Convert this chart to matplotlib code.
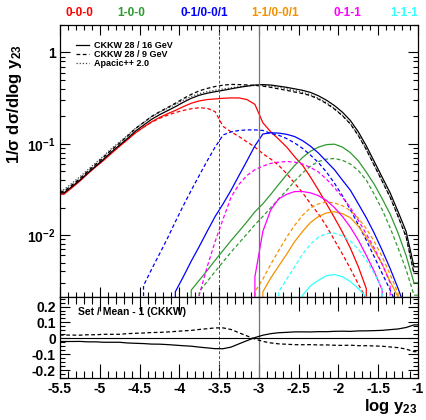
import numpy as np
import matplotlib
matplotlib.use('Agg')
import matplotlib.pyplot as plt
from matplotlib.lines import Line2D
from matplotlib.ticker import MultipleLocator, LogLocator, FuncFormatter, NullFormatter

plt.rcParams['font.family'] = 'Liberation Sans'
plt.rcParams['font.weight'] = 'bold'
plt.rcParams['mathtext.fontset'] = 'custom'
plt.rcParams['mathtext.rm'] = 'Liberation Sans:bold'
plt.rcParams['mathtext.bf'] = 'Liberation Sans:bold'
plt.rcParams['mathtext.default'] = 'bf'
plt.rcParams['axes.unicode_minus'] = False

# log10(y23) binning, 0.1 wide
edges = np.linspace(-5.5, -1.0, 46)
centers = 0.5 * (edges[1:] + edges[:-1])
ycut_9 = -3.5
ycut_16 = -3.0

# total rates
tot_16 = [0.029, 0.034, 0.040, 0.048, 0.057, 0.068, 0.082, 0.097, 0.115, 0.138,
          0.160, 0.185, 0.208, 0.230, 0.255, 0.285, 0.315, 0.340, 0.358, 0.372,
          0.385, 0.400, 0.415, 0.428, 0.440, 0.445, 0.440, 0.428, 0.415, 0.400,
          0.385, 0.365, 0.335, 0.300, 0.262, 0.222, 0.180, 0.135, 0.095, 0.064,
          0.043, 0.029, 0.018, 0.011, 0.0045]
tot_9 = [0.0302, 0.0354, 0.0416, 0.0502, 0.0596, 0.0715, 0.0862, 0.102, 0.122, 0.147,
         0.171, 0.199, 0.224, 0.249, 0.278, 0.313, 0.348, 0.380, 0.404, 0.424,
         0.439, 0.447, 0.445, 0.441, 0.436, 0.428, 0.415, 0.399, 0.385, 0.369,
         0.355, 0.337, 0.308, 0.276, 0.240, 0.203, 0.165, 0.123, 0.0865, 0.0581,
         0.0389, 0.0260, 0.0160, 0.0096, 0.0038]
tot_apa = [0.0315, 0.037, 0.0435, 0.052, 0.062, 0.074, 0.089, 0.105, 0.124, 0.148,
           0.171, 0.197, 0.221, 0.244, 0.270, 0.300, 0.330, 0.354, 0.372, 0.386,
           0.398, 0.410, 0.421, 0.430, 0.436, 0.437, 0.430, 0.416, 0.400, 0.383,
           0.366, 0.345, 0.315, 0.281, 0.244, 0.205, 0.166, 0.124, 0.087, 0.058,
           0.039, 0.026, 0.016, 0.0096, 0.0038]

# jet-multiplicity contributions: (first bin edge, values)
red_16 = (-5.5, [0.028, 0.033, 0.039, 0.047, 0.056, 0.066, 0.079, 0.094, 0.111, 0.132,
                 0.152, 0.174, 0.194, 0.213, 0.232, 0.255, 0.278, 0.295, 0.305, 0.310,
                 0.315, 0.318, 0.318, 0.305, 0.270, 0.170, 0.135, 0.112, 0.092, 0.072,
                 0.058, 0.043, 0.031, 0.022, 0.0155, 0.0108, 0.0072, 0.0045, 0.0026])
red_9 = (-5.5, [0.029, 0.034, 0.040, 0.048, 0.057, 0.068, 0.081, 0.096, 0.113, 0.133,
                0.152, 0.172, 0.190, 0.205, 0.220, 0.232, 0.242, 0.248, 0.245, 0.225,
                0.155, 0.135, 0.120, 0.105, 0.092, 0.078, 0.068, 0.058, 0.047, 0.037,
                0.029, 0.022, 0.017, 0.0125, 0.0088, 0.0062, 0.0043, 0.0029, 0.0020])
green_16 = (-3.9, [0.0025, 0.0032, 0.0041, 0.0053, 0.0068, 0.0087, 0.011, 0.014, 0.018, 0.022,
                   0.028, 0.036, 0.046, 0.058, 0.071, 0.083, 0.092, 0.098, 0.099, 0.092,
                   0.080, 0.065, 0.049, 0.036, 0.025, 0.017, 0.0105, 0.006, 0.003])
green_9 = (-3.8, [0.0024, 0.0031, 0.0040, 0.0051, 0.0065, 0.0082, 0.0103, 0.013, 0.016, 0.020,
                  0.025, 0.031, 0.039, 0.048, 0.057, 0.064, 0.068, 0.069, 0.066, 0.060,
                  0.051, 0.040, 0.028, 0.019, 0.012, 0.0072, 0.0042, 0.0022])
blue_16 = (-4.1, [0.0024, 0.0035, 0.0052, 0.0075, 0.011, 0.016, 0.022, 0.031, 0.045, 0.065,
                  0.095, 0.128, 0.132, 0.131, 0.127, 0.120, 0.108, 0.094, 0.079, 0.064,
                  0.052, 0.040, 0.031, 0.022, 0.0155, 0.0105, 0.0068, 0.0043, 0.0026, 0.0015])
blue_9 = (-4.5, [0.0028, 0.0042, 0.0062, 0.0092, 0.014, 0.021, 0.031, 0.045, 0.065, 0.092,
                 0.125, 0.135, 0.140, 0.142, 0.142, 0.140, 0.130, 0.124, 0.114, 0.102,
                 0.089, 0.075, 0.062, 0.049, 0.037, 0.027, 0.019, 0.013, 0.0088, 0.0058,
                 0.0038, 0.0025, 0.0016])
orange_16 = (-3.0, [0.0024, 0.0034, 0.0046, 0.0062, 0.0085, 0.011, 0.0138, 0.016, 0.0175, 0.018,
                    0.0172, 0.0155, 0.0125, 0.0095, 0.0068, 0.0048, 0.0031, 0.0021])
orange_9 = (-3.1, [0.0024, 0.0033, 0.0048, 0.0068, 0.0095, 0.0128, 0.0165, 0.020, 0.022, 0.023,
                   0.0225, 0.021, 0.0185, 0.0153, 0.0118, 0.0085, 0.0058, 0.0037, 0.0023])
magenta_16 = (-3.1, [0.0035, 0.011, 0.019, 0.025, 0.028, 0.030, 0.030, 0.029, 0.027, 0.024,
                     0.020, 0.016, 0.0122, 0.0088, 0.0060, 0.0040, 0.0025])
magenta_9 = (-3.8, [0.0022, 0.0045, 0.0085, 0.015, 0.026, 0.036, 0.045, 0.052, 0.057, 0.061,
                    0.063, 0.064, 0.063, 0.060, 0.055, 0.049, 0.041, 0.033, 0.026, 0.020,
                    0.0145, 0.0103, 0.0072, 0.0048, 0.0030])
cyan_16 = (-2.5, [0.0022, 0.0028, 0.0032, 0.0036, 0.0037, 0.0035, 0.0031, 0.0026, 0.0021])
cyan_9 = (-2.8, [0.0024, 0.0033, 0.0045, 0.0062, 0.0080, 0.0095, 0.0104, 0.0105, 0.0098, 0.0086,
                 0.0070, 0.0053, 0.0038, 0.0026])

channels = ['0-0-0', '1-0-0', '0-1/0-0/1', '1-1/0-0/1', '0-1-1', '1-1-1']
ch_colors = ['#ff0000', '#2f9a2f', '#0000ff', '#f39200', '#ff00ff', '#33ffff']
ch_hists = [(red_16, red_9), (green_16, green_9), (blue_16, blue_9),
            (orange_16, orange_9), (magenta_16, magenta_9), (cyan_16, cyan_9)]
label_x = [79, 131, 204, 275, 347, 404]


def fill(h):
    lo, vals = h
    out = np.zeros(len(edges) - 1)
    i = int(round((lo - edges[0]) / 0.1))
    out[i:i + len(vals)] = vals
    return out


def hline(a, vals, **kw):
    # join the bin centres, first/last bins held flat to the frame
    v = np.asarray(vals, float)
    x = np.r_[edges[0], centers, edges[-1]]
    y = np.r_[v[0], v, v[-1]]
    a.plot(x, y, **kw)


W, H = 426, 420
fig = plt.figure(figsize=(W / 100, H / 100), dpi=100)
ax = fig.add_axes([60 / W, 1 - 297 / H, 358 / W, 272 / H])
rx = fig.add_axes([60 / W, 1 - 378 / H, 358 / W, 81 / H], sharex=ax)
ax.set_yscale('log', nonpositive='clip')

dash = (0, (3, 2))
dot = (0, (1, 1.5))
for (h16, h9), c in zip(ch_hists, ch_colors):
    hline(ax, fill(h16), color=c, lw=0.9)
    hline(ax, fill(h9), color=c, lw=0.9, ls=dash)

hline(ax, tot_apa, color='0.25', lw=0.9, ls=dot)
hline(ax, tot_9, color='black', lw=0.9, ls=dash)
hline(ax, tot_16, color='black', lw=0.9)

ax.set_xlim(-5.5, -1.0)
ax.set_ylim(0.0021, 2.0)

for a in (ax, rx):
    a.axvline(ycut_9, color='0.3', lw=0.7, ls=(0, (3, 2)))
    a.axvline(ycut_16, color='0.45', lw=0.9)

# ratio panel: each CKKW set relative to their mean
s16 = np.array(tot_16)
s9 = np.array(tot_9)
mean = 0.5 * (s16 + s9)
rx.axhline(0, color='black', lw=0.8)
hline(rx, s16 / mean - 1, color='black', lw=0.9)
hline(rx, s9 / mean - 1, color='black', lw=0.9, ls=dash)
rx.set_ylim(-0.25, 0.26)
rx.text(0.05, 0.815, 'Set / Mean - 1 (CKKW)', transform=rx.transAxes,
        fontsize=7.5, va='center', ha='left')

# axes decoration
fmt = FuncFormatter(lambda v, p: '%g' % v)
ax.xaxis.set_major_locator(MultipleLocator(0.5))
ax.xaxis.set_minor_locator(MultipleLocator(0.1))
ax.yaxis.set_major_locator(LogLocator(base=10, numticks=10))
ax.yaxis.set_minor_locator(LogLocator(base=10, subs=np.arange(2, 10), numticks=20))
ax.yaxis.set_minor_formatter(NullFormatter())
ax.yaxis.set_major_formatter(FuncFormatter(
    lambda v, p: '1' if abs(v - 1) < 1e-9 else r'$10^{%d}$' % round(np.log10(v))))
ax.tick_params(which='both', direction='in', top=True, right=True, labelbottom=False,
               labelsize=10, width=0.8, pad=3)
ax.tick_params(which='major', length=7)
ax.tick_params(which='minor', length=3.5)

rx.yaxis.set_major_locator(MultipleLocator(0.1))
rx.yaxis.set_minor_locator(MultipleLocator(0.025))
rx.yaxis.set_major_formatter(fmt)
rx.xaxis.set_major_formatter(fmt)
rx.tick_params(which='both', direction='in', top=True, right=True,
               labelsize=10, width=0.8, pad=3)
rx.tick_params(axis='x', which='major', length=10)
rx.tick_params(axis='x', which='minor', length=5)
rx.tick_params(axis='y', which='major', length=7)
rx.tick_params(axis='y', which='minor', length=3.5)
for a in (ax, rx):
    for s in a.spines.values():
        s.set_linewidth(0.9)

handles = [Line2D([], [], color='black', lw=0.9),
           Line2D([], [], color='black', lw=0.9, ls=dash),
           Line2D([], [], color='0.25', lw=0.9, ls=dot)]
ax.legend(handles, ['CKKW 28 / 16 GeV', 'CKKW 28 / 9 GeV', 'Apacic++ 2.0'],
          loc='upper left', bbox_to_anchor=(0.045, 0.94), frameon=False,
          fontsize=6.5, handlelength=1.4, handletextpad=0.6, labelspacing=0.0,
          borderaxespad=0, borderpad=0)

for name, c, px in zip(channels, ch_colors, label_x):
    fig.text(px / W, 1 - 13 / H, name, color=c, fontsize=8.5, ha='center', va='center')

fig.text(14 / W, 1 - 44 / H, '1/σ dσ/dlog y$_{23}$', rotation=90,
         ha='center', va='top', fontsize=12)
fig.text(418 / W, 1 - 406 / H, 'log y$_{23}$', ha='right', va='center', fontsize=12)

fig.savefig('out.png', dpi=100)
